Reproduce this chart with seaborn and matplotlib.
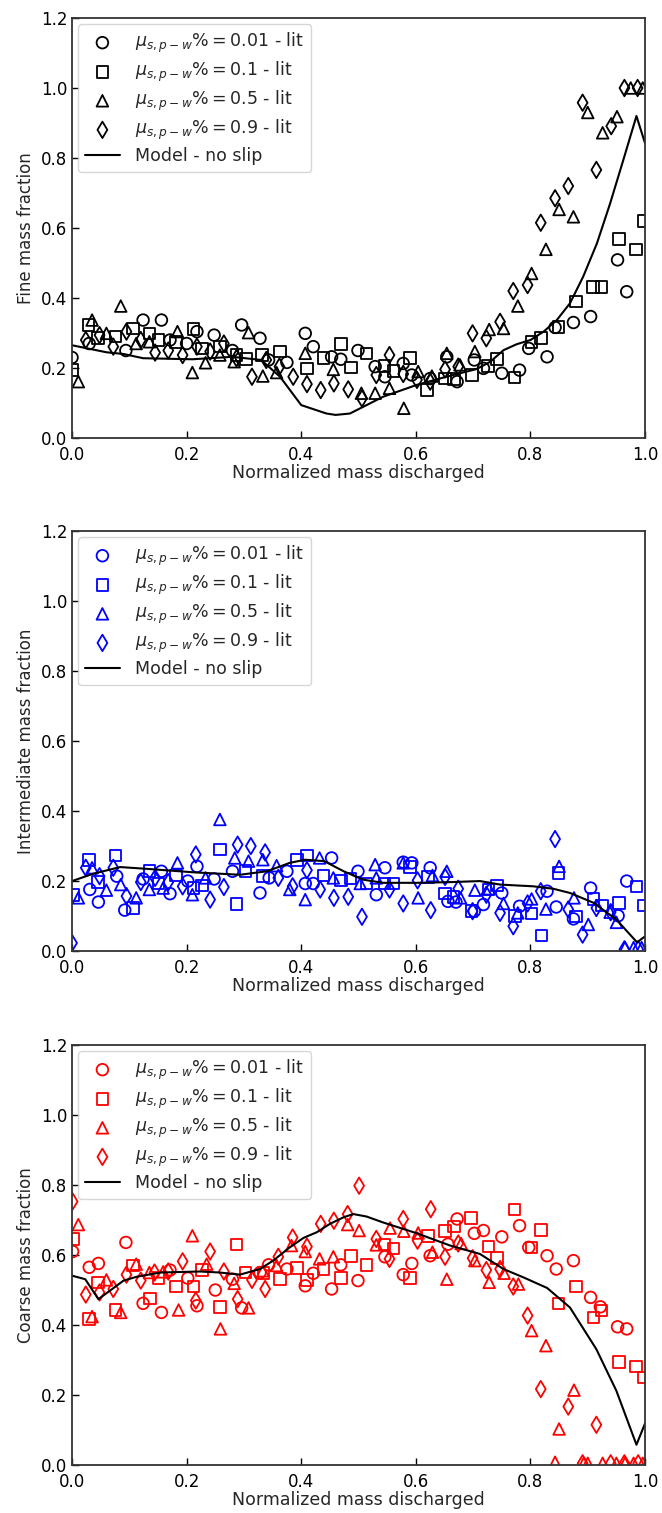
import numpy as np
import pandas as pd
import matplotlib
matplotlib.use("Agg")
import matplotlib.pyplot as plt
import seaborn as sns

# ---------------- Fine fraction ----------------
fine_c_x = [0.0, 0.03, 0.094, 0.124, 0.156, 0.171, 0.2, 0.218, 0.248, 0.28, 0.296, 0.328, 0.343, 0.375, 0.407,
            0.421, 0.453, 0.469, 0.499, 0.529, 0.546, 0.578, 0.593, 0.625, 0.654, 0.672, 0.702, 0.718, 0.75, 0.781,
            0.797, 0.829, 0.843, 0.875, 0.905, 0.952, 0.968]
fine_c_y = [0.23, 0.27, 0.25, 0.337, 0.337, 0.28, 0.27, 0.304, 0.294, 0.25, 0.323, 0.285, 0.223, 0.216, 0.299,
            0.261, 0.232, 0.225, 0.25, 0.204, 0.175, 0.213, 0.18, 0.17, 0.232, 0.161, 0.223, 0.199, 0.185, 0.194,
            0.256, 0.232, 0.316, 0.33, 0.347, 0.509, 0.418]
fine_s_x = [0.001, 0.029, 0.045, 0.076, 0.106, 0.135, 0.151, 0.181, 0.212, 0.227, 0.258, 0.287, 0.304, 0.332, 0.363,
            0.41, 0.439, 0.469, 0.487, 0.514, 0.545, 0.561, 0.59, 0.62, 0.651, 0.667, 0.698, 0.726, 0.742, 0.772,
            0.802, 0.818, 0.849, 0.879, 0.909, 0.924, 0.955, 0.984, 0.997]
fine_s_y = [0.194, 0.323, 0.285, 0.29, 0.313, 0.299, 0.28, 0.275, 0.311, 0.256, 0.261, 0.237, 0.225, 0.237, 0.247,
            0.199, 0.228, 0.269, 0.202, 0.242, 0.206, 0.192, 0.228, 0.137, 0.17, 0.168, 0.18, 0.206, 0.225, 0.173,
            0.275, 0.285, 0.318, 0.39, 0.432, 0.432, 0.568, 0.539, 0.62]
fine_t_x = [0.011, 0.035, 0.06, 0.085, 0.112, 0.135, 0.184, 0.21, 0.233, 0.258, 0.283, 0.308, 0.333, 0.357, 0.407,
            0.456, 0.505, 0.529, 0.554, 0.579, 0.604, 0.628, 0.654, 0.677, 0.703, 0.728, 0.753, 0.778, 0.802, 0.827,
            0.85, 0.875, 0.9, 0.926, 0.951, 0.975, 0.996]
fine_t_y = [0.161, 0.337, 0.299, 0.377, 0.27, 0.275, 0.304, 0.187, 0.215, 0.237, 0.218, 0.301, 0.177, 0.187, 0.242,
            0.196, 0.128, 0.128, 0.142, 0.085, 0.19, 0.177, 0.242, 0.209, 0.247, 0.31, 0.313, 0.377, 0.47, 0.539,
            0.653, 0.632, 0.93, 0.872, 0.918, 1.0, 1.0]
fine_d_x = [0.024, 0.048, 0.072, 0.095, 0.12, 0.145, 0.168, 0.193, 0.218, 0.241, 0.265, 0.287, 0.314, 0.339, 0.362,
            0.386, 0.41, 0.434, 0.457, 0.482, 0.506, 0.531, 0.554, 0.578, 0.602, 0.625, 0.651, 0.674, 0.699, 0.723,
            0.747, 0.77, 0.795, 0.818, 0.843, 0.866, 0.891, 0.915, 0.941, 0.964, 0.987]
fine_d_y = [0.28, 0.294, 0.261, 0.304, 0.28, 0.244, 0.25, 0.237, 0.261, 0.247, 0.27, 0.228, 0.175, 0.223, 0.204,
            0.175, 0.154, 0.137, 0.156, 0.139, 0.113, 0.18, 0.237, 0.183, 0.166, 0.161, 0.196, 0.204, 0.299, 0.285,
            0.332, 0.42, 0.437, 0.615, 0.685, 0.72, 0.958, 0.766, 0.891, 1.0, 1.0]
fine_m_x = [0.0, 0.03, 0.06, 0.09, 0.124, 0.21, 0.28, 0.33, 0.363, 0.4, 0.444, 0.46, 0.485, 0.543, 0.602, 0.66,
            0.706, 0.73, 0.753, 0.776, 0.8, 0.823, 0.846, 0.869, 0.892, 0.916, 0.939, 0.962, 0.985, 1.0]
fine_m_y = [0.265, 0.255, 0.245, 0.24, 0.228, 0.225, 0.232, 0.223, 0.175, 0.094, 0.07, 0.066, 0.07, 0.118, 0.152,
            0.178, 0.197, 0.218, 0.251, 0.268, 0.28, 0.304, 0.337, 0.385, 0.461, 0.556, 0.67, 0.794, 0.92, 0.842]

# ---------------- Intermediate fraction ----------------
mid_c_x = [0.031, 0.046, 0.078, 0.092, 0.124, 0.156, 0.171, 0.202, 0.218, 0.248, 0.28, 0.328, 0.344, 0.375, 0.407,
           0.421, 0.453, 0.499, 0.531, 0.546, 0.578, 0.593, 0.625, 0.656, 0.67, 0.702, 0.718, 0.75, 0.781, 0.829,
           0.845, 0.875, 0.905, 0.953, 0.968]
mid_c_y = [0.176, 0.14, 0.214, 0.117, 0.206, 0.228, 0.164, 0.2, 0.242, 0.206, 0.228, 0.166, 0.209, 0.228, 0.193,
           0.193, 0.266, 0.228, 0.161, 0.238, 0.254, 0.252, 0.238, 0.142, 0.14, 0.114, 0.133, 0.166, 0.128, 0.171,
           0.126, 0.092, 0.18, 0.101, 0.2]
mid_s_x = [0.002, 0.03, 0.045, 0.076, 0.106, 0.135, 0.151, 0.181, 0.212, 0.227, 0.258, 0.287, 0.303, 0.333, 0.393,
           0.41, 0.439, 0.469, 0.486, 0.514, 0.545, 0.561, 0.59, 0.621, 0.651, 0.666, 0.697, 0.727, 0.742, 0.773,
           0.802, 0.819, 0.849, 0.879, 0.91, 0.925, 0.955, 0.985, 0.997]
mid_s_y = [0.161, 0.261, 0.197, 0.273, 0.123, 0.228, 0.193, 0.216, 0.18, 0.187, 0.29, 0.135, 0.228, 0.214, 0.261,
           0.273, 0.216, 0.202, 0.207, 0.193, 0.193, 0.193, 0.24, 0.212, 0.164, 0.155, 0.114, 0.176, 0.187, 0.101,
           0.107, 0.044, 0.223, 0.099, 0.149, 0.13, 0.138, 0.185, 0.13]
mid_t_x = [0.011, 0.035, 0.06, 0.085, 0.112, 0.135, 0.159, 0.184, 0.21, 0.233, 0.258, 0.284, 0.308, 0.333, 0.357,
           0.38, 0.407, 0.432, 0.456, 0.503, 0.529, 0.531, 0.578, 0.604, 0.629, 0.654, 0.678, 0.703, 0.728, 0.753,
           0.778, 0.802, 0.827, 0.85, 0.876, 0.901, 0.939, 0.95, 0.965, 0.98, 0.994]
mid_t_y = [0.152, 0.238, 0.174, 0.19, 0.152, 0.176, 0.18, 0.252, 0.161, 0.209, 0.376, 0.266, 0.257, 0.261, 0.244,
           0.176, 0.147, 0.266, 0.209, 0.193, 0.247, 0.209, 0.252, 0.152, 0.216, 0.228, 0.152, 0.174, 0.178, 0.136,
           0.109, 0.149, 0.12, 0.242, 0.152, 0.076, 0.111, 0.082, 0.01, 0.01, 0.01]
mid_d_x = [0.0, 0.024, 0.048, 0.072, 0.095, 0.12, 0.145, 0.168, 0.193, 0.216, 0.241, 0.265, 0.289, 0.312, 0.337,
           0.36, 0.385, 0.41, 0.433, 0.457, 0.482, 0.506, 0.554, 0.578, 0.603, 0.626, 0.651, 0.674, 0.699, 0.723,
           0.747, 0.77, 0.795, 0.818, 0.843, 0.866, 0.891, 0.915, 0.94, 0.964, 0.988]
mid_d_y = [0.023, 0.238, 0.214, 0.238, 0.157, 0.197, 0.209, 0.197, 0.185, 0.276, 0.147, 0.183, 0.304, 0.3, 0.282,
           0.209, 0.185, 0.231, 0.176, 0.152, 0.155, 0.098, 0.176, 0.136, 0.202, 0.117, 0.212, 0.178, 0.114, 0.161,
           0.109, 0.071, 0.136, 0.171, 0.32, 0.119, 0.047, 0.123, 0.111, 0.005, 0.005]
mid_m_x = [0.0, 0.037, 0.084, 0.13, 0.212, 0.293, 0.34, 0.38, 0.407, 0.44, 0.474, 0.508, 0.543, 0.602, 0.66, 0.712,
           0.747, 0.805, 0.84, 0.869, 0.91, 0.95, 0.986, 1.0]
mid_m_y = [0.2, 0.221, 0.24, 0.235, 0.225, 0.218, 0.228, 0.252, 0.261, 0.257, 0.228, 0.204, 0.195, 0.195, 0.197,
           0.2, 0.19, 0.185, 0.178, 0.166, 0.138, 0.09, 0.025, 0.042]

# ---------------- Coarse fraction ----------------
coarse_c_x = [0.001, 0.03, 0.046, 0.094, 0.124, 0.156, 0.171, 0.202, 0.218, 0.25, 0.28, 0.296, 0.328, 0.343, 0.375,
              0.407, 0.421, 0.453, 0.469, 0.499, 0.546, 0.578, 0.593, 0.625, 0.656, 0.672, 0.702, 0.718, 0.75, 0.781,
              0.797, 0.829, 0.845, 0.875, 0.905, 0.922, 0.952, 0.968]
coarse_c_y = [0.61, 0.565, 0.576, 0.636, 0.462, 0.436, 0.557, 0.534, 0.455, 0.5, 0.531, 0.449, 0.55, 0.572, 0.56,
              0.512, 0.548, 0.503, 0.572, 0.527, 0.595, 0.544, 0.576, 0.598, 0.631, 0.703, 0.662, 0.67, 0.652, 0.684,
              0.622, 0.598, 0.56, 0.584, 0.479, 0.452, 0.395, 0.389]
coarse_s_x = [0.002, 0.03, 0.045, 0.076, 0.106, 0.136, 0.151, 0.181, 0.212, 0.227, 0.258, 0.287, 0.303, 0.334, 0.363,
              0.393, 0.41, 0.439, 0.469, 0.487, 0.514, 0.545, 0.561, 0.59, 0.621, 0.651, 0.667, 0.696, 0.727, 0.742,
              0.772, 0.802, 0.818, 0.849, 0.879, 0.91, 0.924, 0.955, 0.984, 0.997]
coarse_s_y = [0.646, 0.417, 0.522, 0.443, 0.57, 0.476, 0.534, 0.51, 0.51, 0.557, 0.452, 0.63, 0.55, 0.548, 0.531,
              0.563, 0.529, 0.56, 0.534, 0.598, 0.571, 0.63, 0.619, 0.534, 0.655, 0.668, 0.681, 0.706, 0.624, 0.591,
              0.73, 0.622, 0.672, 0.462, 0.51, 0.422, 0.441, 0.295, 0.281, 0.25]
coarse_t_x = [0.011, 0.035, 0.06, 0.085, 0.112, 0.135, 0.159, 0.186, 0.21, 0.235, 0.259, 0.283, 0.308, 0.333, 0.357,
              0.383, 0.407, 0.432, 0.456, 0.481, 0.501, 0.531, 0.555, 0.579, 0.604, 0.629, 0.654, 0.679, 0.703, 0.728,
              0.754, 0.779, 0.802, 0.827, 0.843, 0.85, 0.876, 0.893, 0.9, 0.926, 0.95, 0.965, 0.98, 0.996]
coarse_t_y = [0.687, 0.424, 0.529, 0.436, 0.574, 0.55, 0.552, 0.443, 0.655, 0.574, 0.389, 0.519, 0.449, 0.555, 0.57,
              0.627, 0.61, 0.589, 0.595, 0.687, 0.67, 0.629, 0.677, 0.668, 0.663, 0.608, 0.531, 0.633, 0.584, 0.522,
              0.548, 0.517, 0.384, 0.341, 0.008, 0.103, 0.214, 0.005, 0.005, 0.005, 0.005, 0.005, 0.005, 0.005]
coarse_d_x = [0.001, 0.024, 0.048, 0.072, 0.095, 0.12, 0.144, 0.168, 0.193, 0.216, 0.241, 0.265, 0.289, 0.314, 0.337,
              0.36, 0.385, 0.41, 0.434, 0.457, 0.481, 0.501, 0.531, 0.554, 0.578, 0.603, 0.626, 0.651, 0.674, 0.699,
              0.723, 0.747, 0.77, 0.795, 0.818, 0.866, 0.891, 0.915, 0.94, 0.964, 0.988]
coarse_d_y = [0.753, 0.487, 0.493, 0.503, 0.544, 0.527, 0.55, 0.553, 0.582, 0.47, 0.61, 0.553, 0.474, 0.529, 0.503,
              0.595, 0.65, 0.624, 0.689, 0.698, 0.717, 0.798, 0.646, 0.589, 0.703, 0.641, 0.731, 0.595, 0.633, 0.591,
              0.557, 0.56, 0.51, 0.427, 0.217, 0.167, 0.005, 0.115, 0.005, 0.005, 0.005]
coarse_m_x = [0.0, 0.023, 0.046, 0.066, 0.09, 0.113, 0.154, 0.223, 0.258, 0.293, 0.328, 0.351, 0.38, 0.404, 0.427,
              0.45, 0.474, 0.491, 0.514, 0.543, 0.602, 0.66, 0.712, 0.753, 0.788, 0.829, 0.869, 0.915, 0.95, 0.985, 1.0]
coarse_m_y = [0.541, 0.531, 0.474, 0.498, 0.527, 0.538, 0.55, 0.553, 0.55, 0.544, 0.56, 0.584, 0.622, 0.649, 0.665,
              0.689, 0.708, 0.717, 0.71, 0.693, 0.662, 0.627, 0.603, 0.56, 0.536, 0.506, 0.45, 0.331, 0.212, 0.058, 0.119]

series_labels = [r"$\mu_{s,p-w}\%=0.01$ - lit", r"$\mu_{s,p-w}\%=0.1$ - lit",
                 r"$\mu_{s,p-w}\%=0.5$ - lit", r"$\mu_{s,p-w}\%=0.9$ - lit"]
model_label = "Model - no slip"
y_labels = ["Fine mass fraction", "Intermediate mass fraction", "Coarse mass fraction"]
x_label = "Normalized mass discharged"

sns.set_style("ticks")
plt.rcParams.update({
    "font.family": ["DejaVu Sans"],
    "font.size": 12,
    "xtick.direction": "in",
    "ytick.direction": "in",
    "axes.edgecolor": "#333333",
})

panels = [
    ("k", [(fine_c_x, fine_c_y), (fine_s_x, fine_s_y), (fine_t_x, fine_t_y), (fine_d_x, fine_d_y)],
     (fine_m_x, fine_m_y)),
    ("b", [(mid_c_x, mid_c_y), (mid_s_x, mid_s_y), (mid_t_x, mid_t_y), (mid_d_x, mid_d_y)],
     (mid_m_x, mid_m_y)),
    ("r", [(coarse_c_x, coarse_c_y), (coarse_s_x, coarse_s_y), (coarse_t_x, coarse_t_y), (coarse_d_x, coarse_d_y)],
     (coarse_m_x, coarse_m_y)),
]
markers = ["o", "s", "^", "d"]

fig = plt.figure(figsize=(6.62, 15.13), dpi=100)
bottoms = [0.7105, 0.3714, 0.0317]
for (color, groups, model), bottom, ylab in zip(panels, bottoms, y_labels):
    ax = fig.add_axes([0.1088, bottom, 0.8656, 0.2776])
    for (gx, gy), mk, lab in zip(groups, markers, series_labels):
        df = pd.DataFrame({"x": gx, "y": gy})
        sns.scatterplot(data=df, x="x", y="y", marker=mk, s=70, color=color,
                        facecolor="none", edgecolor=color, linewidth=1.3,
                        label=lab, ax=ax, legend=False)
    mdf = pd.DataFrame({"x": model[0], "y": model[1]})
    sns.lineplot(data=mdf, x="x", y="y", color="k", linewidth=1.5, estimator=None,
                 label=model_label, ax=ax, legend=False)
    ax.set_xlim(0, 1.0)
    ax.set_ylim(0, 1.2)
    ax.set_xticks(np.arange(0, 1.01, 0.2))
    ax.set_yticks(np.arange(0, 1.21, 0.2))
    ax.set_xticklabels([f"{v:.1f}" for v in np.arange(0, 1.01, 0.2)])
    ax.set_yticklabels([f"{v:.1f}" for v in np.arange(0, 1.21, 0.2)])
    ax.tick_params(axis="both", direction="in", length=5, width=1, labelsize=12,
                   top=False, right=False, colors="black")
    ax.tick_params(axis="x", pad=6)
    for sp in ax.spines.values():
        sp.set_visible(True)
        sp.set_linewidth(1.3)
    ax.set_xlabel(x_label, fontsize=12.5, labelpad=0)
    ax.set_ylabel(ylab, fontsize=12)
    ax.legend(loc="upper left", fontsize=12.5, frameon=True, fancybox=True,
              edgecolor="#cccccc", framealpha=0.8, borderaxespad=0.35,
              labelspacing=0.28, handletextpad=0.9)

fig.savefig("out.png", dpi=100)
